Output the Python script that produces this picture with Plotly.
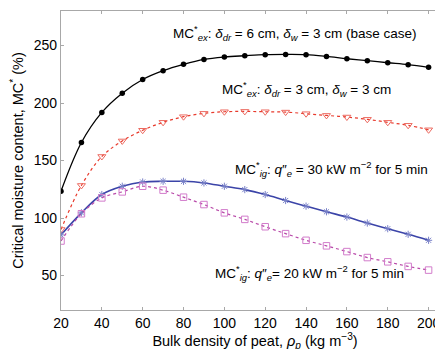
import plotly.graph_objects as go

density = [20, 30, 40, 50, 60, 70, 80, 90, 100, 110, 120, 130, 140, 150, 160, 170, 180, 190, 200]

mc_ex_base = [123.3, 165.6, 191.8, 208.5, 220.4, 228.1, 233.6, 237.9, 240.0, 241.1,
              242.0, 242.2, 242.0, 240.5, 238.5, 236.8, 235.0, 233.3, 231.0]
mc_ex_3cm = [90.0, 128.3, 153.5, 167.0, 176.3, 183.2, 188.1, 191.0, 192.4, 192.7,
             192.4, 192.1, 190.7, 189.2, 187.8, 185.8, 183.2, 180.6, 176.7]
mc_ig_30 = [85.3, 104.5, 120.4, 127.6, 131.3, 131.9, 131.9, 130.5, 127.6, 124.7,
            120.4, 115.2, 110.3, 105.4, 100.8, 95.6, 90.7, 85.8, 80.6]
mc_ig_20 = [80.0, 103.7, 117.5, 122.7, 127.6, 124.2, 118.1, 111.7, 104.5, 98.8,
            92.4, 86.4, 80.6, 75.8, 70.8, 65.6, 61.9, 57.9, 54.7]

x_ticks = [20, 40, 60, 80, 100, 120, 140, 160, 180, 200]
y_ticks = [50, 100, 150, 200, 250]

FONT = "Liberation Sans, Arial, sans-serif"

fig = go.Figure()
fig.add_trace(go.Scatter(
    x=density, y=mc_ex_base, mode="lines+markers", line_shape="spline",
    line=dict(color="black", width=1.3),
    marker=dict(symbol="circle", size=5.5, color="black"),
))
fig.add_trace(go.Scatter(
    x=density, y=mc_ex_3cm, mode="lines+markers", line_shape="spline",
    line=dict(color="#e83a2c", width=1.2, dash="dot"),
    marker=dict(symbol="triangle-down-open", size=7, color="#ec6a60", line=dict(width=1)),
))
fig.add_trace(go.Scatter(
    x=density, y=mc_ig_30, mode="lines+markers", line_shape="spline",
    line=dict(color="#3b44a8", width=1.6),
    marker=dict(symbol="asterisk-open", size=6, color="#7a82c8", line=dict(width=1)),
))
fig.add_trace(go.Scatter(
    x=density, y=mc_ig_20, mode="lines+markers", line_shape="spline",
    line=dict(color="#b848a8", width=1.2, dash="dot"),
    marker=dict(symbol="square-open", size=6.5, color="#d27ccb", line=dict(width=1)),
))

ann_font = dict(family=FONT, size=13.5, color="black")
annotations = [
    dict(x=134.5, y=261, text="MC<sup>*</sup><sub><i>ex</i></sub>: <i>δ<sub>dr</sub></i> = 6 cm, <i>δ<sub>w</sub></i> = 3 cm (base case)"),
    dict(x=140, y=212, text="MC<sup>*</sup><sub><i>ex</i></sub>: <i>δ<sub>dr</sub></i> = 3 cm, <i>δ<sub>w</sub></i> = 3 cm"),
    dict(x=152.5, y=143, text="MC<sup>*</sup><sub><i>ig</i></sub>: <i>q</i>″<sub><i>e</i></sub> = 30 kW m<sup>−2</sup> for 5 min"),
    dict(x=141.5, y=52, text="MC<sup>*</sup><sub><i>ig</i></sub>: <i>q</i>″<sub><i>e</i></sub>= 20 kW m<sup>−2</sup> for 5 min"),
]
for a in annotations:
    fig.add_annotation(x=a["x"], y=a["y"], text=a["text"], showarrow=False,
                       xanchor="center", yanchor="middle", font=ann_font)

axis_common = dict(
    showgrid=False, zeroline=False, showline=True, linecolor="#a8a8a8", linewidth=1.2,
    mirror="ticks", ticks="inside", ticklen=3, tickcolor="#a8a8a8",
    tickfont=dict(family=FONT, size=14, color="black"),
)
fig.update_xaxes(range=[20, 210], tickvals=x_ticks, automargin=True,
                 title=dict(text="Bulk density of peat, <i>ρ<sub>p</sub></i> (kg m<sup>−3</sup>)",
                            font=dict(family=FONT, size=14.5, color="black"), standoff=2),
                 **axis_common)
fig.update_yaxes(range=[20, 280], tickvals=y_ticks,
                 title=dict(text="Critical moisture content, MC<sup>*</sup> (%)",
                            font=dict(family=FONT, size=14.5, color="black"), standoff=10),
                 **axis_common)

fig.update_layout(
    width=443, height=349, showlegend=False,
    margin=dict(l=53, r=2, t=3, b=47),
    plot_bgcolor="white", paper_bgcolor="white",
    font=dict(family=FONT),
)

fig.write_html("out.html")
